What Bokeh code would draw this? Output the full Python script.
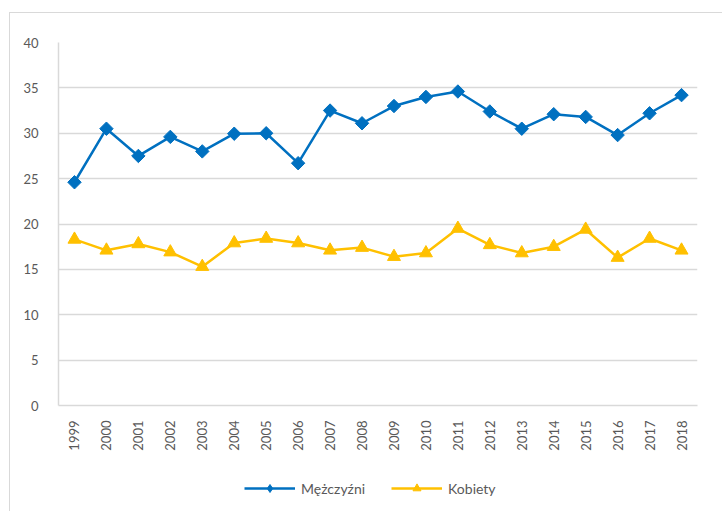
import math
from bokeh.plotting import figure
from bokeh.layouts import column
from bokeh.models import Legend, LegendItem, FactorRange, Range1d, FixedTicker
from bokeh.embed import file_html
from bokeh.resources import INLINE

years = ["1999", "2000", "2001", "2002", "2003", "2004", "2005", "2006", "2007", "2008",
         "2009", "2010", "2011", "2012", "2013", "2014", "2015", "2016", "2017", "2018"]
men = [24.6, 30.5, 27.5, 29.6, 28.0, 29.95, 30.0, 26.7, 32.5, 31.1,
       33.0, 34.0, 34.6, 32.4, 30.5, 32.1, 31.8, 29.8, 32.2, 34.2]
women = [18.3, 17.1, 17.8, 16.9, 15.3, 17.9, 18.4, 17.9, 17.1, 17.4,
         16.4, 16.8, 19.5, 17.7, 16.8, 17.5, 19.4, 16.3, 18.4, 17.1]
y_ticks = [0, 5, 10, 15, 20, 25, 30, 35, 40]
series_names = ["Mężczyźni", "Kobiety"]

BLUE = "#0070C0"
GOLD = "#FFC000"
TEXT = "#595959"
GRID = "#D9D9D9"
FONT = "Lato"

p = figure(width=712, height=440, x_range=FactorRange(*years, range_padding=0),
           y_range=Range1d(0, 40), output_backend="svg", toolbar_location=None,
           min_border_left=48, min_border_top=29, min_border_right=25, min_border_bottom=45)
p.outline_line_color = None
p.background_fill_color = "white"
p.border_fill_color = "white"

p.xgrid.grid_line_color = None
p.ygrid.grid_line_color = GRID
p.ygrid.grid_line_width = 1.5
p.yaxis.ticker = FixedTicker(ticks=y_ticks)

for ax in (p.xaxis[0], p.yaxis[0]):
    ax.axis_line_color = GRID
    ax.axis_line_width = 1.5
    ax.major_tick_line_color = None
    ax.minor_tick_line_color = None
    ax.major_label_text_font = FONT
    ax.major_label_text_font_size = "13px"
    ax.major_label_text_color = TEXT
p.yaxis.major_label_standoff = 14
p.xaxis.major_label_standoff = 9
p.xaxis.major_label_orientation = math.pi / 2

p.line(years, men, line_color=BLUE, line_width=2.5)
p.scatter(years, men, marker="square", angle=math.pi / 4, size=9.5,
          fill_color=BLUE, line_color=BLUE)
p.line(years, women, line_color=GOLD, line_width=2.5)
p.scatter(years, women, marker="triangle", size=13,
          fill_color=GOLD, line_color=GOLD)

# legend strip below the plot (its sample glyphs sit outside the strip's visible range)
lp = figure(width=712, height=58, x_range=Range1d(0, 1), y_range=Range1d(0, 1),
            output_backend="svg", toolbar_location=None,
            x_axis_location=None, y_axis_location=None,
            min_border_left=0, min_border_right=0, min_border_top=0, min_border_bottom=0)
lp.grid.visible = False
lp.outline_line_color = None
lp.border_fill_color = "white"
lp.background_fill_color = "white"
ll1 = lp.line([men[0]], [men[0]], line_color=BLUE, line_width=2.5)
lm1 = lp.scatter([men[0]], [men[0]], marker="diamond", size=11, fill_color=BLUE, line_color=BLUE)
ll2 = lp.line([women[0]], [women[0]], line_color=GOLD, line_width=2.5)
lm2 = lp.scatter([women[0]], [women[0]], marker="triangle", size=10, fill_color=GOLD, line_color=GOLD)

legend = Legend(items=[LegendItem(label=series_names[0], renderers=[ll1, lm1]),
                       LegendItem(label=series_names[1], renderers=[ll2, lm2])],
                orientation="horizontal", location=(186, 13))
legend.border_line_color = None
legend.background_fill_alpha = 0
legend.label_text_font = FONT
legend.label_text_font_size = "14px"
legend.label_text_color = TEXT
legend.glyph_width = 51
legend.glyph_height = 20
legend.label_standoff = 6
legend.spacing = 26
legend.padding = 5
legend.margin = 0
lp.add_layout(legend, "center")

layout = column(p, lp, spacing=0)
layout.margin = (12, 0, 0, 9)
layout.styles = {"border-left": "1px solid #D9D9D9", "border-top": "1px solid #D9D9D9"}

open("out.html", "w").write(file_html(layout, INLINE))
